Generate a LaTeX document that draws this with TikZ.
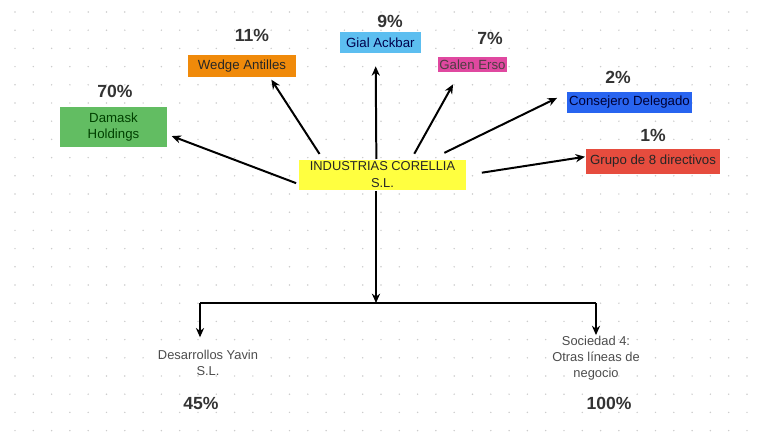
\documentclass[tikz,border=0pt]{standalone}
\usepackage{fontspec}
\setmainfont{Liberation Sans}
\usepackage{xcolor}
\usepackage{tikz}
\usetikzlibrary{calc, positioning}
\usetikzlibrary{arrows,arrows.meta}

\definecolor{dhgreen}{RGB}{98,189,98}
\definecolor{waorange}{RGB}{240,138,10}
\definecolor{gablue}{RGB}{92,190,240}
\definecolor{gepink}{RGB}{224,72,160}
\definecolor{cdblue}{RGB}{40,100,240}
\definecolor{gdred}{RGB}{230,76,62}
\definecolor{icyellow}{RGB}{255,255,64}

\begin{document}
\begin{tikzpicture}[
		x=0.03cm, y=-0.03cm,
		box/.style={rectangle, inner sep=1pt, align=center, font=\fontsize{11.3}{13.6}\selectfont, text=black!85},
		pct/.style={inner sep=0pt, font=\fontsize{15}{18}\selectfont\bfseries, text=black!80},
		sub/.style={inner sep=0pt, align=center, font=\fontsize{11}{13.6}\selectfont, text=black!70},
		->,>={Stealth[length=8pt,width=7pt]}, line width=1.7pt
		]
	
		\useasboundingbox (0,0) rectangle (757,433);
		% fond pointillé
		\foreach \gx in {0,...,40}
			\foreach \gy in {0,...,23}
				\fill[gray!40] (15+\gx*18.3, 12+\gy*18.2) circle (0.025cm);
	
		% Sociedad principal
		\node[box, fill=icyellow, minimum width=5.01cm, minimum height=0.9cm, font=\fontsize{11}{14.5}\selectfont] (IC) at (382.5,175) {INDUSTRIAS CORELLIA\\S.L.};
	
		% Socios
		\node[box, fill=dhgreen, minimum width=3.21cm, minimum height=1.2cm, text=green!25!black] (DH) at (113.5,127) {Damask\\Holdings};
		\node[box, fill=waorange, minimum width=3.24cm, minimum height=0.66cm] (WA) at (242,66) {Wedge Antilles};
		\node[box, fill=gablue, minimum width=2.42cm, minimum height=0.65cm, text=blue!30!black] (GA) at (380.4,42.5) {Gial Ackbar};
		\node[box, fill=gepink, minimum width=2.01cm, minimum height=0.45cm, text=black!80!magenta] (GE) at (472.5,64.5) {Galen Erso};
		\node[box, fill=cdblue, minimum width=3.75cm, minimum height=0.63cm, text=blue!20!black] (CD) at (629.5,102.5) {Consejero Delegado};
		\node[box, fill=gdred, minimum width=4.02cm, minimum height=0.75cm] (GD) at (653,161.5) {Grupo de 8 directivos};
	
		\node[pct] (pDH) at (115,91) {70\%};
		\node[pct] (pWA) at (252,35) {11\%};
		\node[pct] (pGA) at (390,21.5) {9\%};
		\node[pct] (pGE) at (490,38) {7\%};
		\node[pct] (pCD) at (618,77) {2\%};
		\node[pct] (pGD) at (653,135) {1\%};
	
		\draw[shorten <=0.06cm, shorten >=0.12cm] (IC.186) -- (DH.-8);
		\draw[shorten <=0.18cm, shorten >=0.06cm] (IC.165) -- (WA.-23);
		\draw[shorten >=0.36cm] (IC.111) -- (GA.-112);
		\draw[shorten <=0.18cm, shorten >=0.39cm] (IC.29) -- (GE.-147);
		\draw[shorten <=0.42cm, shorten >=0.3cm] (IC.18) -- (CD.172);
		\draw[shorten <=0.45cm] (IC.east) -- (GD.176);
	
		% Participadas
		\node[sub] (DY) at (208,363) {Desarrollos Yavin\\S.L.};
		\node[sub] (S4) at (596,358) {Sociedad 4:\\Otras líneas de\\negocio};
		\node[pct] (pDY) at (201,403) {45\%};
		\node[pct] (pS4) at (609,403) {100\%};
	
		\coordinate (J) at (376,303);
		\coordinate (JL) at (200,303);
		\coordinate (JR) at (596,303);
		\draw (IC.south -| J) -- (J);
		\draw[-] (JL) -- (JR);
		\draw[shorten >=0.36cm] (JL) -- (JL |- DY.north);
		\draw (JR) -- (S4.north);
	\end{tikzpicture}
\end{document}
